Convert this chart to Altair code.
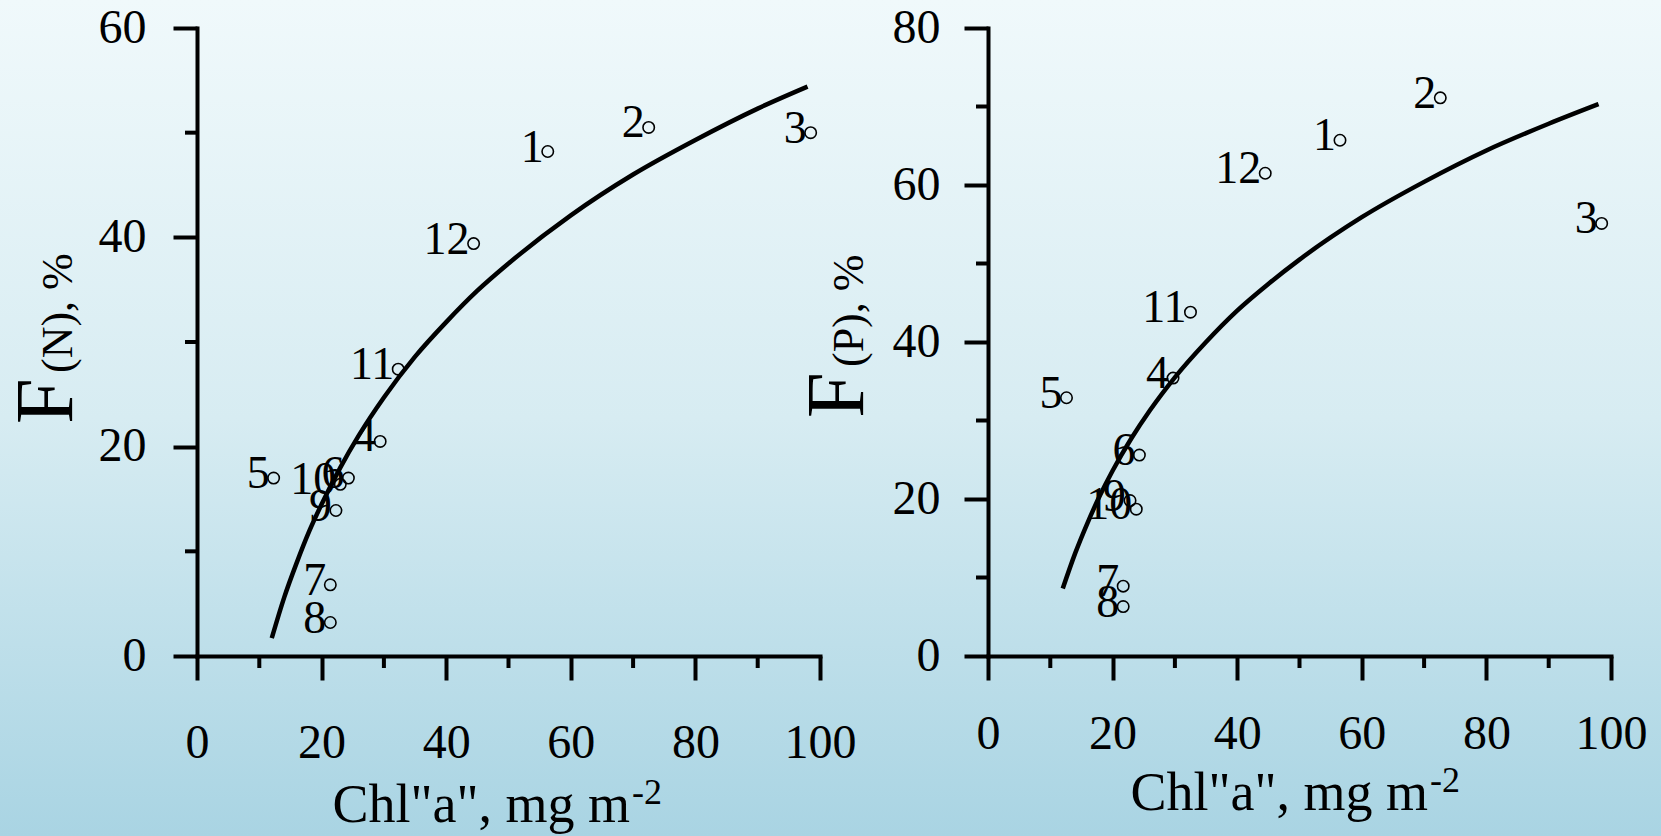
import altair as alt
import pandas as pd

# ---------------- data ----------------
point_ids = ["1", "2", "3", "4", "5", "6", "7", "8", "9", "10", "11", "12"]

# left panel: F(N), %
n_chl = [56.3, 72.5, 98.5, 29.4, 12.3, 24.3, 21.4, 21.4, 22.3, 23.0, 32.3, 44.4]
n_f = [48.2, 50.5, 50.0, 20.5, 17.0, 17.0, 6.8, 3.2, 13.9, 16.4, 27.4, 39.4]

# right panel: F(P), %
p_chl = [56.5, 72.6, 98.5, 29.7, 12.6, 24.3, 21.7, 21.7, 22.8, 23.8, 32.5, 44.5]
p_f = [65.7, 71.1, 55.1, 35.4, 32.9, 25.6, 8.9, 6.3, 19.8, 18.7, 43.8, 61.5]

# fitted curves
curve_chl = [12, 14, 16, 18, 20, 23, 26, 30, 35, 40, 45, 50, 60, 70, 80, 90, 98]
n_curve_f = [1.7, 5.6, 8.9, 11.9, 14.5, 18.0, 21.1, 24.7, 28.6, 31.9, 34.9, 37.5,
             42.1, 46.0, 49.3, 52.3, 54.4]
p_curve_f = [8.6, 13.1, 17.0, 20.5, 23.6, 27.7, 31.3, 35.5, 40.0, 44.0, 47.4, 50.5,
             55.9, 60.4, 64.4, 67.8, 70.3]

x_major = [0, 20, 40, 60, 80, 100]
x_minor = [10, 30, 50, 70, 90]
n_y_major = [0, 20, 40, 60]
n_y_minor = [10, 30, 50]
p_y_major = [0, 20, 40, 60, 80]
p_y_minor = [10, 30, 50, 70]

# ---------------- layout / style ----------------
FONT = "Liberation Serif"
W, H = 623, 628
CANVAS_W, CANVAS_H = 1661, 836
LEFT0, TOP0 = 197, 28
SPACING = 168
INK = "black"


def background():
    grad = alt.Gradient(
        gradient="linear",
        stops=[
            alt.GradientStop(color="#f0f9fb", offset=0),
            alt.GradientStop(color="#d7ecf2", offset=0.5),
            alt.GradientStop(color="#a9d4e3", offset=1),
        ],
        x1=0, x2=0, y1=0, y2=1,
    )
    return alt.Chart(pd.DataFrame({"a": [0]})).mark_rect(color=grad).encode(
        x=alt.value(-LEFT0), x2=alt.value(CANVAS_W - LEFT0),
        y=alt.value(-TOP0), y2=alt.value(CANVAS_H - TOP0),
    )


def panel(chl, f, curve_f, y_major, y_minor, y_max, sub, xlab_pad, ylab_pad,
          ytitle_y, xtitle_x, xtitle_y, with_bg=False):
    xs = alt.Scale(domain=[0, 100], nice=False, zero=True)
    ys = alt.Scale(domain=[0, y_max], nice=False, zero=True)

    x_axis = alt.Axis(values=x_major, tickSize=24, tickWidth=4, domainWidth=4,
                      domainColor=INK, tickColor=INK, labelColor=INK,
                      labelFont=FONT, labelFontSize=48, labelPadding=xlab_pad,
                      title=None, grid=False, zindex=1, labelFlush=False,
                      labelOverlap=False, domainCap="square", format="d")
    y_axis = alt.Axis(values=y_major, tickSize=24, tickWidth=4, domainWidth=4,
                      domainColor=INK, tickColor=INK, labelColor=INK,
                      labelFont=FONT, labelFontSize=48, labelPadding=ylab_pad,
                      title=None, grid=False, zindex=1, labelFlush=False,
                      labelOverlap=False, domainCap="square", format="d")

    def X(field="chl"):
        return alt.X(f"{field}:Q", scale=xs, axis=x_axis)

    def Y(field="f"):
        return alt.Y(f"{field}:Q", scale=ys, axis=y_axis)

    pts = pd.DataFrame({"chl": chl, "f": f, "id": point_ids})
    crv = pd.DataFrame({"chl": curve_chl, "f": curve_f})

    curve = alt.Chart(crv).mark_line(color=INK, strokeWidth=4.5,
                                     interpolate="monotone").encode(x=X(), y=Y())
    labels = alt.Chart(pts).mark_text(align="right", baseline="alphabetic",
                                      dx=-4, dy=10, font=FONT, fontSize=46,
                                      color=INK).encode(x=X(), y=Y(), text="id:N")
    points = alt.Chart(pts).mark_point(shape="circle", filled=False, size=130,
                                       strokeWidth=1.6, color=INK,
                                       opacity=1).encode(x=X(), y=Y())
    ymin = alt.Chart(pd.DataFrame({"f": y_minor})).mark_rule(
        color=INK, strokeWidth=4).encode(
        y=Y(), x=alt.value(-12), x2=alt.value(0))
    xmin = alt.Chart(pd.DataFrame({"chl": x_minor})).mark_rule(
        color=INK, strokeWidth=4).encode(
        x=X(), y=alt.value(H), y2=alt.value(H + 12))

    one = pd.DataFrame({"a": [0]})
    yt_big = alt.Chart(one).mark_text(text="F", angle=270, align="left",
                                      baseline="alphabetic", font=FONT,
                                      fontSize=82, color=INK).encode(
        x=alt.value(-125), y=alt.value(ytitle_y))
    yt_sub = alt.Chart(one).mark_text(text=sub, angle=270, align="left",
                                      baseline="alphabetic", font=FONT,
                                      fontSize=44, color=INK).encode(
        x=alt.value(-125), y=alt.value(ytitle_y - 51))
    xt_main = alt.Chart(one).mark_text(text='Chl"a", mg m', align="right",
                                       baseline="alphabetic", font=FONT,
                                       fontSize=54, color=INK).encode(
        x=alt.value(xtitle_x), y=alt.value(xtitle_y))
    xt_sup = alt.Chart(one).mark_text(text="-2", align="left",
                                      baseline="alphabetic", font=FONT,
                                      fontSize=36, color=INK).encode(
        x=alt.value(xtitle_x + 2), y=alt.value(xtitle_y - 18))

    layers = [curve, ymin, xmin, labels, points, yt_big, yt_sub, xt_main, xt_sup]
    if with_bg:
        layers = [background()] + layers
    return alt.layer(*layers).properties(width=W, height=H)


left = panel(n_chl, n_f, n_curve_f, n_y_major, n_y_minor, 60, "(N), %",
             xlab_pad=39, ylab_pad=27, ytitle_y=396, xtitle_x=433,
             xtitle_y=794, with_bg=True)
right = panel(p_chl, p_f, p_curve_f, p_y_major, p_y_minor, 80, "(P), %",
              xlab_pad=30, ylab_pad=24, ytitle_y=390, xtitle_x=440,
              xtitle_y=782)

chart = alt.hconcat(left, right, spacing=SPACING, bounds="flush").properties(
    padding=0
).configure_view(strokeWidth=0)

chart.save("out.html", embed_options={"renderer": "svg", "actions": False})
